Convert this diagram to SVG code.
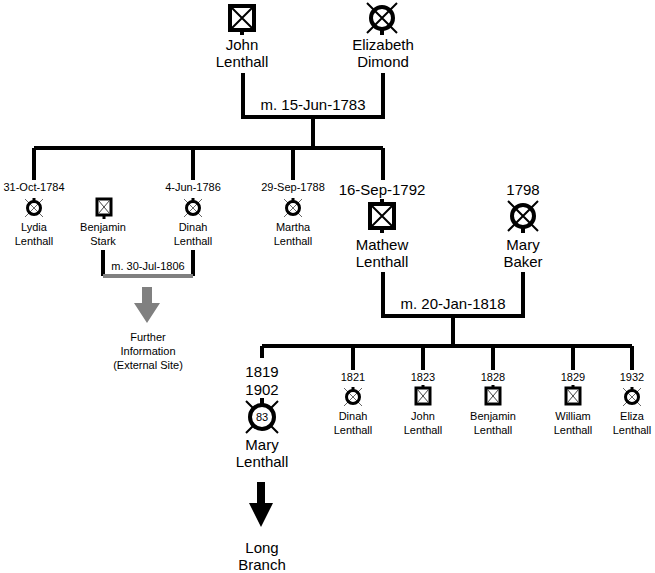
<svg xmlns="http://www.w3.org/2000/svg" xmlns:xlink="http://www.w3.org/1999/xlink" width="655" height="573" viewBox="0 0 655 573">
<style>
text{font-family:"Liberation Sans",Arial,sans-serif;fill:#000;text-anchor:middle}
.L{font-size:15px}
.S{font-size:11px}
.ln{stroke:#000;stroke-width:4;fill:none}
</style>
<defs>
<g id="bigBox"><rect x="-12" y="-12" width="24" height="24" fill="#fff" stroke="#000" stroke-width="4"/><path d="M-10-10L10 10M10-10L-10 10" stroke="#000" stroke-width="2"/></g>
<g id="bigCirc"><path d="M-15-15L15 15M15-15L-15 15" stroke="#000" stroke-width="2"/><circle r="11" fill="none" stroke="#000" stroke-width="4"/></g>
<g id="smBox"><rect x="-7" y="-8" width="14" height="16" fill="#fff" stroke="#000" stroke-width="3"/><path d="M-5.5-6.5L5.5 6.5M5.5-6.5L-5.5 6.5" stroke="#444" stroke-width="1"/></g>
<g id="smCirc"><path d="M-9-9L9 9M9-9L-9 9" stroke="#666" stroke-width="1"/><circle r="6.5" fill="none" stroke="#000" stroke-width="3"/></g>
</defs>
<g id="connectors">
<path class="ln" d="M243 73V117H383V73M313 117V148M34 148H383M34 148V180M193 148V180M293 148V180M383 148V180"/>
<path class="ln" d="M103 250V276M193 250V276"/>
<path d="M103 276H193" stroke="#808080" stroke-width="4"/>
<path class="ln" d="M383 272V316H523V272M453 316V346M262 346H632M262 346V358M353 346V370M423 346V370M493 346V370M573 346V370M632 346V370"/>
<text class="L" x="313" y="110">m. 15-Jun-1783</text>
<text class="S" x="148" y="270">m. 30-Jul-1806</text>
<text class="L" x="453" y="309">m. 20-Jan-1818</text>
</g>
<g id="john">
<use xlink:href="#bigBox" x="242" y="18"/><path class="ln" d="M242 30V35"/>
<text class="L" x="242" y="50">John</text><text class="L" x="242" y="67">Lenthall</text>
</g>
<g id="elizabeth">
<use xlink:href="#bigCirc" x="382" y="18"/><path class="ln" d="M382 29V35"/>
<text class="L" x="383" y="50">Elizabeth</text><text class="L" x="383" y="67">Dimond</text>
</g>
<g id="lydia">
<text class="S" x="34" y="191">31-Oct-1784</text>
<use xlink:href="#smCirc" x="34" y="208"/><path d="M34 198V202" stroke="#000" stroke-width="3"/>
<text class="S" x="34" y="231">Lydia</text><text class="S" x="34" y="245">Lenthall</text>
</g>
<g id="benjamin-stark">
<use xlink:href="#smBox" x="104" y="207"/><path d="M104 214V219" stroke="#000" stroke-width="3"/>
<text class="S" x="103" y="231">Benjamin</text><text class="S" x="103" y="245">Stark</text>
</g>
<g id="dinah">
<text class="S" x="193" y="191">4-Jun-1786</text>
<use xlink:href="#smCirc" x="193" y="208"/><path d="M193 198V202" stroke="#000" stroke-width="3"/>
<text class="S" x="193" y="231">Dinah</text><text class="S" x="193" y="245">Lenthall</text>
</g>
<g id="martha">
<text class="S" x="293" y="191">29-Sep-1788</text>
<use xlink:href="#smCirc" x="293" y="208"/><path d="M293 198V202" stroke="#000" stroke-width="3"/>
<text class="S" x="293" y="231">Martha</text><text class="S" x="293" y="245">Lenthall</text>
</g>
<g id="further">
<path d="M142 287H152V303H160L147 323L134 303H142Z" fill="#808080"/>
<text class="S" x="148" y="341">Further</text><text class="S" x="148" y="355">Information</text><text class="S" x="148" y="369">(External Site)</text>
</g>
<g id="mathew">
<text class="L" x="382" y="195">16-Sep-1792</text>
<path class="ln" d="M382 199V205M382 227V233"/>
<use xlink:href="#bigBox" x="382" y="216"/>
<text class="L" x="382" y="250">Mathew</text><text class="L" x="382" y="267">Lenthall</text>
</g>
<g id="mary-baker">
<text class="L" x="523" y="195">1798</text>
<use xlink:href="#bigCirc" x="523" y="216"/><path class="ln" d="M523 227V233"/>
<text class="L" x="523" y="250">Mary</text><text class="L" x="523" y="267">Baker</text>
</g>
<g id="mary-lenthall">
<text class="L" x="262" y="377">1819</text><text class="L" x="262" y="395">1902</text>
<path d="M246 401L278 433M278 401L246 433" stroke="#000" stroke-width="2"/>
<path class="ln" d="M262 398V404"/>
<circle cx="262" cy="417" r="12" fill="#fff" stroke="#000" stroke-width="4"/>
<text x="262" y="421" style="font-size:11px">83</text>
<text class="L" x="262" y="450">Mary</text><text class="L" x="262" y="467">Lenthall</text>
</g>
<g id="long-branch">
<path d="M257 482H265V503H273L261 527L249 503H257Z" fill="#000"/>
<text class="L" x="262" y="553">Long</text><text class="L" x="262" y="570">Branch</text>
</g>
<g id="dinah2">
<text class="S" x="353" y="381">1821</text>
<use xlink:href="#smCirc" x="353" y="397"/><path d="M353 387V391" stroke="#000" stroke-width="3"/>
<text class="S" x="353" y="420">Dinah</text><text class="S" x="353" y="434">Lenthall</text>
</g>
<g id="john2">
<text class="S" x="423" y="381">1823</text>
<use xlink:href="#smBox" x="423" y="396"/><path d="M423 385V388" stroke="#000" stroke-width="3"/>
<text class="S" x="423" y="420">John</text><text class="S" x="423" y="434">Lenthall</text>
</g>
<g id="benjamin2">
<text class="S" x="493" y="381">1828</text>
<use xlink:href="#smBox" x="493" y="396"/><path d="M493 385V388" stroke="#000" stroke-width="3"/>
<text class="S" x="493" y="420">Benjamin</text><text class="S" x="493" y="434">Lenthall</text>
</g>
<g id="william">
<text class="S" x="573" y="381">1829</text>
<use xlink:href="#smBox" x="573" y="396"/><path d="M573 385V388" stroke="#000" stroke-width="3"/>
<text class="S" x="573" y="420">William</text><text class="S" x="573" y="434">Lenthall</text>
</g>
<g id="eliza">
<text class="S" x="632" y="381">1932</text>
<use xlink:href="#smCirc" x="632" y="397"/><path d="M632 387V391" stroke="#000" stroke-width="3"/>
<text class="S" x="632" y="420">Eliza</text><text class="S" x="632" y="434">Lenthall</text>
</g>
</svg>
